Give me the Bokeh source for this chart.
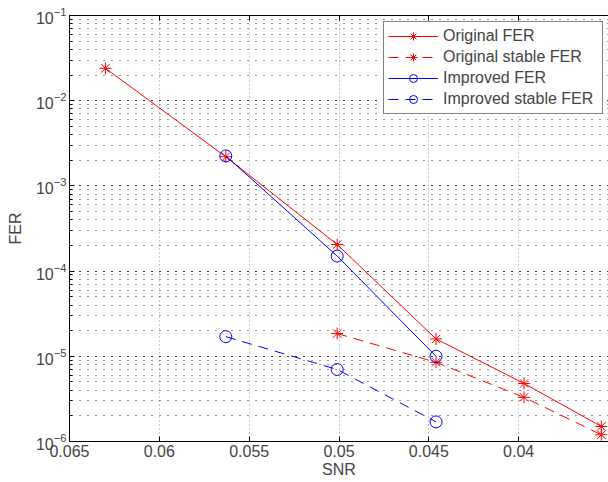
from bokeh.plotting import figure
from bokeh.models import Range1d, FixedTicker, CustomJSTickFormatter, LinearAxis, Legend, LegendItem
from bokeh.embed import file_html
from bokeh.resources import INLINE

# Data
snr_orig = [0.0630, 0.0563, 0.0501, 0.0446, 0.0397, 0.0354]
fer_orig = [2.4e-2, 2.2e-3, 2.05e-4, 1.6e-5, 4.8e-6, 1.5e-6]
snr_orig_stable = [0.0501, 0.0446, 0.0397, 0.0354]
fer_orig_stable = [1.85e-5, 8.5e-6, 3.3e-6, 1.2e-6]
snr_impr = [0.0563, 0.0501, 0.0446]
fer_impr = [2.25e-3, 1.5e-4, 1.0e-5]
snr_impr_stable = [0.0563, 0.0501, 0.0446]
fer_impr_stable = [1.7e-5, 7.0e-6, 1.7e-6]
x_ticks = [0.065, 0.06, 0.055, 0.05, 0.045, 0.04]

FONT = "Liberation Sans"

p = figure(width=608, height=482, output_backend="svg", toolbar_location=None,
           y_axis_type="log", x_range=Range1d(0.065, 0.035), y_range=Range1d(1e-6, 1e-1),
           min_border_left=69, min_border_right=0, min_border_top=15, min_border_bottom=41)
p.outline_line_color = None
p.background_fill_color = "white"
p.border_fill_color = "white"

fmt = CustomJSTickFormatter(code="return parseFloat(tick.toFixed(4)).toString();")
p.xaxis.ticker = FixedTicker(ticks=x_ticks)
p.xaxis.formatter = fmt
p.xaxis.axis_label = "SNR"
p.yaxis.axis_label = "FER"
for ax in (p.xaxis[0], p.yaxis[0]):
    ax.axis_label_text_font = FONT
    ax.axis_label_text_font_style = "normal"
    ax.axis_label_text_font_size = "16px"
    ax.major_label_text_font = FONT
    ax.major_label_text_font_size = "16px"
    ax.major_tick_in = 5
    ax.major_tick_out = 0
    ax.minor_tick_in = 3
    ax.minor_tick_out = 0
    ax.axis_line_color = "black"
    ax.major_tick_line_color = "black"
    ax.minor_tick_line_color = "black"
p.xaxis.minor_tick_line_color = None
p.xaxis.major_label_standoff = 3
p.xaxis.axis_label_standoff = 1
p.yaxis.major_label_standoff = 3
p.yaxis.axis_label_standoff = 9

top = LinearAxis(ticker=FixedTicker(ticks=x_ticks),
                 formatter=CustomJSTickFormatter(code="return '';"),
                 major_tick_in=5, major_tick_out=0, minor_tick_line_color=None,
                 major_label_standoff=0, axis_line_color="black")
p.add_layout(top, "above")

p.xgrid.grid_line_color = "#999999"
p.xgrid.grid_line_dash = "1 3"
p.ygrid.grid_line_color = "black"
p.ygrid.grid_line_alpha = 0.8
p.ygrid.grid_line_dash = "1 7"
p.ygrid.minor_grid_line_color = "black"
p.ygrid.minor_grid_line_alpha = 0.8
p.ygrid.minor_grid_line_dash = "1 7"

red = "#ff0000"
blue = "#0000ff"
l1 = p.line(snr_orig, fer_orig, line_color=red, line_width=1)
s1 = p.scatter(snr_orig, fer_orig, marker="asterisk", size=12, line_color=red, line_width=1)
l2 = p.line(snr_orig_stable, fer_orig_stable, line_color=red, line_width=1, line_dash="10 7")
s2 = p.scatter(snr_orig_stable, fer_orig_stable, marker="asterisk", size=12, line_color=red, line_width=1)
l3 = p.line(snr_impr, fer_impr, line_color=blue, line_width=1)
s3 = p.scatter(snr_impr, fer_impr, marker="circle", size=12, line_color=blue, fill_color=None, line_width=1)
l4 = p.line(snr_impr_stable, fer_impr_stable, line_color=blue, line_width=1, line_dash="10 7")
s4 = p.scatter(snr_impr_stable, fer_impr_stable, marker="circle", size=12, line_color=blue, fill_color=None, line_width=1)

legend = Legend(items=[
    LegendItem(label="Original FER", renderers=[l1, s1]),
    LegendItem(label="Original stable FER", renderers=[l2, s2]),
    LegendItem(label="Improved FER", renderers=[l3, s3]),
    LegendItem(label="Improved stable FER", renderers=[l4, s4]),
], location=(314, 327))
legend.border_line_color = "black"
legend.border_line_width = 1
legend.background_fill_color = "white"
legend.background_fill_alpha = 1
legend.label_text_font = FONT
legend.label_text_font_size = "16px"
legend.glyph_width = 50
legend.glyph_height = 20
legend.label_height = 20
legend.label_width = 155
legend.label_standoff = 5
legend.spacing = 1
legend.padding = 4
legend.margin = 0
p.add_layout(legend, "center")

open("out.html", "w").write(file_html(p, INLINE))
